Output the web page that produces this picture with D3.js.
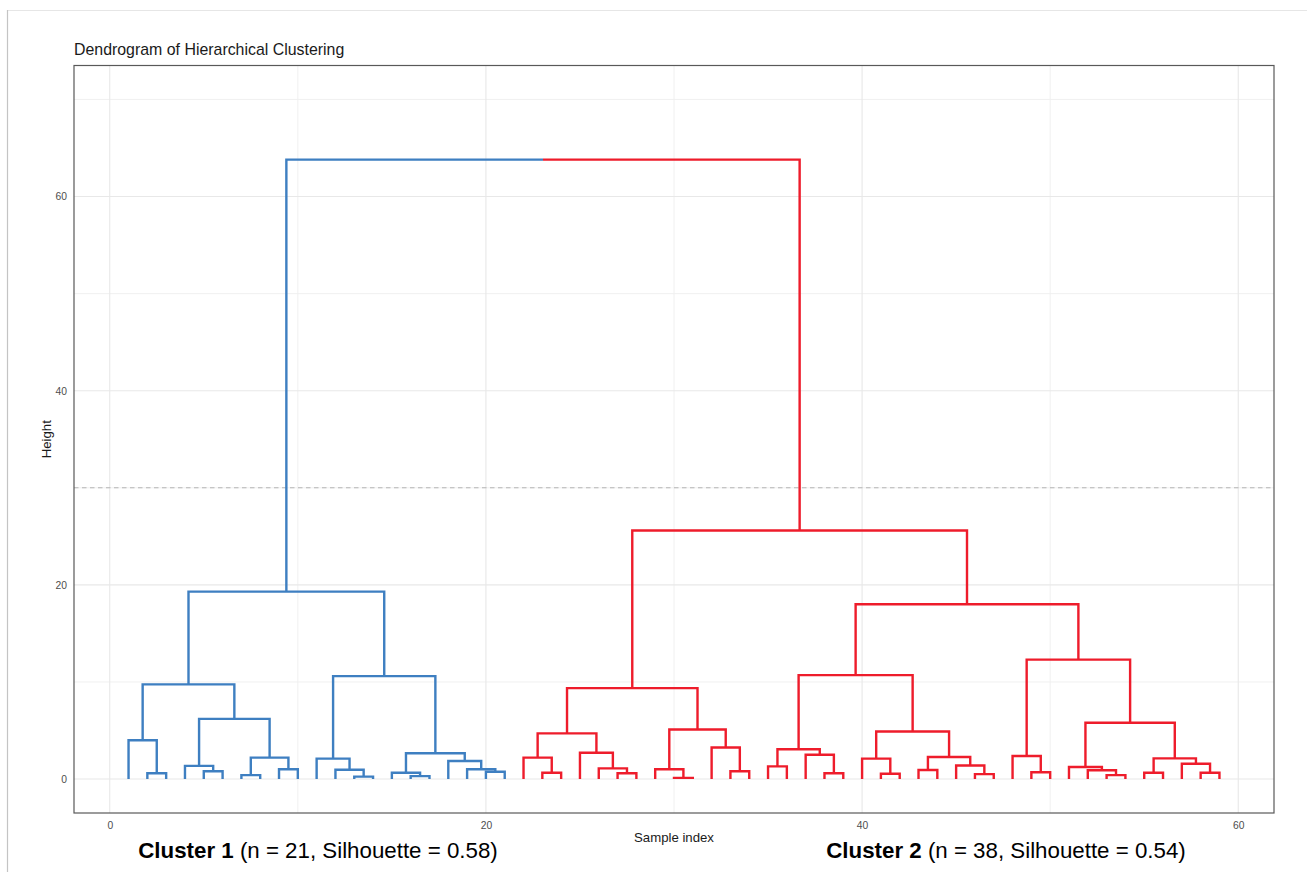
<!DOCTYPE html>
<html>
<head>
<meta charset="utf-8">
<script src="https://cdn.jsdelivr.net/npm/d3@7"></script>
<style>
  body { margin: 0; background: #ffffff; }
  svg { display: block; font-family: "Liberation Sans", Arial, Helvetica, sans-serif; }
</style>
</head>
<body>
<svg id="chart" width="1307" height="872"></svg>
<script>
// Dendrogram trees: a leaf is its sample index (order along the x axis),
// an internal node is [merge height, left subtree, right subtree].
const cluster1Tree =
  [19.3,
    [9.75,
      [4.0, 1, [0.6, 2, 3]],
      [6.2,
        [1.35, 4, [0.8, 5, 6]],
        [2.2, [0.4, 7, 8], [1.0, 9, 10]]]],
    [10.6,
      [2.1, 11, [0.95, 12, [0.25, 13, 14]]],
      [2.65,
        [0.65, 15, [0.3, 16, 17]],
        [1.85, 18, [1.0, 19, [0.75, 20, 21]]]]]];

const cluster2Tree =
  [25.6,
    [9.36,
      [4.7,
        [2.2, 22, [0.65, 23, 24]],
        [2.7, 25, [1.1, 26, [0.6, 27, 28]]]],
      [5.1,
        [1.0, 29, [0.12, 30, 31]],
        [3.25, 32, [0.8, 33, 34]]]],
    [18.0,
      [10.7,
        [3.06, [1.3, 35, 36], [2.5, 37, [0.6, 38, 39]]],
        [4.9,
          [2.1, 40, [0.55, 41, 42]],
          [2.27, [0.93, 43, 44], [1.4, 45, [0.5, 46, 47]]]]],
      [12.3,
        [2.37, 48, [0.7, 49, 50]],
        [5.8,
          [1.24, 51, [0.9, 52, [0.4, 53, 54]]],
          [2.13, [0.65, 55, 56], [1.58, 57, [0.65, 58, 59]]]]]]];

const rootHeight = 63.8;
const cutHeight = 30;

const clusterNames = ["Cluster 1", "Cluster 2"];
const clusterSizes = [21, 38];
const clusterSilhouettes = [0.58, 0.54];
const clusterColors = ["#3E7FC1", "#EE1C2B"];

const xTicks = [0, 20, 40, 60];
const xMinor = [10, 30, 50];
const yTicks = [0, 20, 40, 60];
const yMinor = [10, 30, 50, 70];

const titleText = "Dendrogram of Hierarchical Clustering";
const xTitle = "Sample index";
const yTitle = "Height";

// ---- layout ----
const W = 1307, H = 872;
const panel = { left: 74, right: 1274, top: 65.5, bottom: 813 };

const svg = d3.select("#chart");

// outer frame lines
svg.append("line").attr("x1", 7).attr("x2", W).attr("y1", 10.5).attr("y2", 10.5)
  .attr("stroke", "#e6e6e6").attr("stroke-width", 1);
svg.append("line").attr("x1", 7.5).attr("x2", 7.5).attr("y1", 10).attr("y2", H)
  .attr("stroke", "#c4c4c4").attr("stroke-width", 1.2);

// build hierarchy
function toNode(t, cluster) {
  if (typeof t === "number") return { leaf: t, h: 0, cluster };
  return { h: t[0], cluster, children: [toNode(t[1], cluster), toNode(t[2], cluster)] };
}
const rootData = {
  h: rootHeight,
  cluster: -1,
  children: [toNode(cluster1Tree, 0), toNode(cluster2Tree, 1)]
};
const root = d3.hierarchy(rootData, d => d.children);
root.eachAfter(n => {
  n.xPos = n.children ? d3.mean(n.children, c => c.xPos) : n.data.leaf;
});
const leaves = root.leaves();
const nLeaves = leaves.length;

// scales with 5% padding on each side of the data range
const xPad = (nLeaves - 1) * 0.05;
const x = d3.scaleLinear().domain([1 - xPad, nLeaves + xPad]).range([panel.left, panel.right]);
const yMax = 70;
const y = d3.scaleLinear().domain([-yMax * 0.05, yMax * 1.05]).range([panel.bottom, panel.top]);

// grid
const grid = svg.append("g");
xMinor.forEach(v => grid.append("line")
  .attr("x1", x(v)).attr("x2", x(v)).attr("y1", panel.top).attr("y2", panel.bottom)
  .attr("stroke", "#eeeeee").attr("stroke-width", 0.9));
yMinor.forEach(v => grid.append("line")
  .attr("y1", y(v)).attr("y2", y(v)).attr("x1", panel.left).attr("x2", panel.right)
  .attr("stroke", "#eeeeee").attr("stroke-width", 0.9));
xTicks.forEach(v => grid.append("line")
  .attr("x1", x(v)).attr("x2", x(v)).attr("y1", panel.top).attr("y2", panel.bottom)
  .attr("stroke", "#e8e8e8").attr("stroke-width", 1.1));
yTicks.forEach(v => grid.append("line")
  .attr("y1", y(v)).attr("y2", y(v)).attr("x1", panel.left).attr("x2", panel.right)
  .attr("stroke", "#e8e8e8").attr("stroke-width", 1.1));

// cut line
svg.append("line")
  .attr("x1", panel.left).attr("x2", panel.right)
  .attr("y1", y(cutHeight)).attr("y2", y(cutHeight))
  .attr("stroke", "#b5b5b5").attr("stroke-width", 1.1)
  .attr("stroke-dasharray", "4.5,3.5");

// branches
const branches = svg.append("g").attr("fill", "none")
  .attr("stroke-width", 2.4).attr("stroke-linejoin", "miter");
root.descendants().filter(n => n.children && n !== root).forEach(n => {
  const [a, b] = n.children;
  const path = d3.path();
  path.moveTo(x(a.xPos), y(a.data.h));
  path.lineTo(x(a.xPos), y(n.data.h));
  path.lineTo(x(b.xPos), y(n.data.h));
  path.lineTo(x(b.xPos), y(b.data.h));
  branches.append("path").attr("d", path.toString())
    .attr("stroke", clusterColors[n.data.cluster]);
});
// top merge, each half in its cluster colour
{
  const [a, b] = root.children;
  const mid = (a.xPos + b.xPos) / 2;
  const pa = d3.path();
  pa.moveTo(x(a.xPos), y(a.data.h));
  pa.lineTo(x(a.xPos), y(root.data.h));
  pa.lineTo(x(mid), y(root.data.h));
  branches.append("path").attr("d", pa.toString()).attr("stroke", clusterColors[0]);
  const pb = d3.path();
  pb.moveTo(x(mid), y(root.data.h));
  pb.lineTo(x(b.xPos), y(root.data.h));
  pb.lineTo(x(b.xPos), y(b.data.h));
  branches.append("path").attr("d", pb.toString()).attr("stroke", clusterColors[1]);
}

// panel border
svg.append("rect")
  .attr("x", panel.left).attr("y", panel.top)
  .attr("width", panel.right - panel.left).attr("height", panel.bottom - panel.top)
  .attr("fill", "none").attr("stroke", "#595959").attr("stroke-width", 1.2);

// axes (labels only, no tick marks)
const xAxis = svg.append("g").attr("transform", `translate(0,${panel.bottom})`)
  .call(d3.axisBottom(x).tickValues(xTicks).tickSize(0).tickPadding(9).tickFormat(d3.format("d")));
const yAxis = svg.append("g").attr("transform", `translate(${panel.left},0)`)
  .call(d3.axisLeft(y).tickValues(yTicks).tickSize(0).tickPadding(7).tickFormat(d3.format("d")));
[xAxis, yAxis].forEach(g => {
  g.select(".domain").remove();
  g.selectAll("text").attr("fill", "#4d4d4d").style("font-size", "10.3px")
    .style("font-family", '"Liberation Sans", Arial, sans-serif');
});

// titles
svg.append("text").attr("x", panel.left).attr("y", 55)
  .attr("fill", "#1a1a1a").style("font-size", "15.9px").text(titleText);
svg.append("text").attr("x", (panel.left + panel.right) / 2).attr("y", 842)
  .attr("text-anchor", "middle").attr("fill", "#1a1a1a").style("font-size", "13.2px").text(xTitle);
svg.append("text")
  .attr("transform", `translate(51,${(panel.top + panel.bottom) / 2}) rotate(-90)`)
  .attr("text-anchor", "middle").attr("fill", "#1a1a1a").style("font-size", "13.2px").text(yTitle);

// cluster summary labels under the axis
const labelCenters = [318, 1006];
clusterNames.forEach((name, i) => {
  const t = svg.append("text")
    .attr("x", labelCenters[i]).attr("y", 858)
    .attr("text-anchor", "middle").attr("fill", "#000")
    .style("font-size", "22.3px");
  t.append("tspan").attr("font-weight", "bold").text(name);
  t.append("tspan").text(` (n = ${clusterSizes[i]}, Silhouette = ${clusterSilhouettes[i].toFixed(2)})`);
});
</script>
</body>
</html>
